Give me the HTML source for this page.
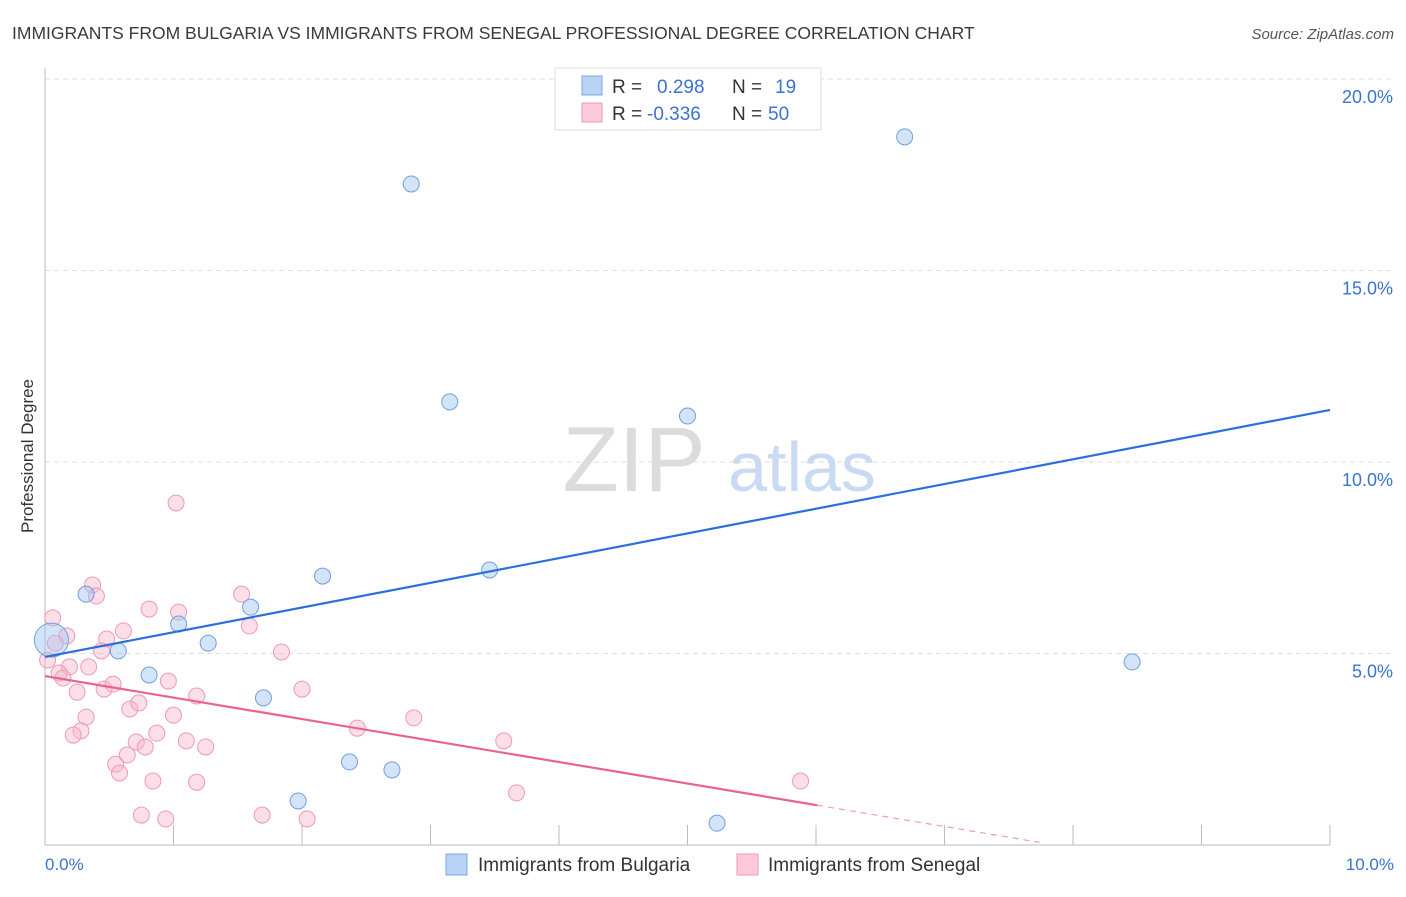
<!DOCTYPE html>
<html><head><meta charset="utf-8"><style>
body{margin:0;background:#fff;font-family:"Liberation Sans",sans-serif;}
svg text{font-family:"Liberation Sans",sans-serif;}
</style></head><body>
<svg id="chart" width="1406" height="892" xmlns="http://www.w3.org/2000/svg">
<text x="12" y="39" font-size="17.5" fill="#3a3a3a">IMMIGRANTS FROM BULGARIA VS IMMIGRANTS FROM SENEGAL PROFESSIONAL DEGREE CORRELATION CHART</text>
<text x="1394" y="39" font-size="15" fill="#555" text-anchor="end" font-style="italic">Source: ZipAtlas.com</text>
<g id="grid"></g>
<g>
<text x="634" y="491" font-size="92" fill="#dcdcdc" text-anchor="middle" font-family="Liberation Serif, serif">ZIP</text>
<text x="802" y="491" font-size="70" fill="#c9daf2" text-anchor="middle">atlas</text>
</g>
<line x1="45" y1="68" x2="45" y2="845" stroke="#bbb"/>
<line x1="45" y1="845" x2="1330" y2="845" stroke="#bbb"/>
<g id="ticks"></g>
<g id="pts"></g>
<g id="lines"></g>
<text x="33" y="456" font-size="17" fill="#333" text-anchor="middle" transform="rotate(-90 33 456)">Professional Degree</text>
<text x="45" y="870" font-size="17" fill="#3b73d1">0.0%</text>
<text x="1394" y="870" font-size="17" fill="#3b73d1" text-anchor="end">10.0%</text>
<g>
<rect x="555" y="68" width="266" height="62" fill="#fff" stroke="#ddd"/>
<rect x="582" y="76" width="20" height="19" fill="#b8d3f6" stroke="#7aa7e0"/>
<rect x="582" y="103" width="20" height="19" fill="#fcc9d8" stroke="#ee9ab5"/>
<text x="612" y="93" font-size="19" fill="#333">R = </text><text x="657" y="93" font-size="19" fill="#3b73d1">0.298</text>
<text x="732" y="93" font-size="19" fill="#333">N = </text><text x="775" y="93" font-size="19" fill="#3b73d1">19</text>
<text x="612" y="120" font-size="19" fill="#333">R = </text><text x="647" y="120" font-size="19" fill="#3b73d1">-0.336</text>
<text x="732" y="120" font-size="19" fill="#333">N = </text><text x="768" y="120" font-size="19" fill="#3b73d1">50</text>
</g>
<g>
<rect x="446" y="854" width="21" height="21" fill="#b8d3f6" stroke="#7aa7e0"/>
<text x="478" y="871" font-size="19" fill="#333">Immigrants from Bulgaria</text>
<rect x="737" y="854" width="21" height="21" fill="#fcc9d8" stroke="#ee9ab5"/>
<text x="768" y="871" font-size="19" fill="#333">Immigrants from Senegal</text>
</g>
</svg>
<script>
const yTicks=[5,10,15,20];
const yTickLabels=["5.0%","10.0%","15.0%","20.0%"];
const xTicks=[1,2,3,4,5,6,7,8,9,10];
const bulgariaX=[0.05,0.32,0.57,0.81,1.04,1.27,1.60,1.70,2.16,2.37,2.70,1.97,2.85,3.15,3.46,5.00,5.23,6.69,8.46];
const bulgariaY=[5.35,6.55,5.07,4.44,5.77,5.27,6.21,3.84,7.02,2.17,1.96,1.15,17.26,11.57,7.18,11.20,0.57,18.49,4.78];
const senegalX=[1.02,0.37,0.40,0.06,0.81,1.04,1.53,1.59,0.17,0.61,0.48,0.44,0.08,1.84,0.19,0.34,0.11,0.14,0.25,0.46,0.53,0.96,1.18,2.00,0.66,0.73,1.00,0.32,0.28,0.22,0.87,0.71,0.78,1.10,1.25,0.64,0.55,0.58,0.84,1.18,2.43,0.75,0.94,1.69,2.04,2.87,3.57,3.67,5.88,0.02];
const senegalY=[8.93,6.79,6.50,5.93,6.16,6.08,6.55,5.72,5.46,5.59,5.38,5.07,5.27,5.04,4.65,4.65,4.49,4.36,3.99,4.07,4.20,4.28,3.89,4.07,3.55,3.71,3.39,3.34,2.98,2.87,2.92,2.69,2.56,2.72,2.56,2.35,2.11,1.88,1.67,1.64,3.05,0.78,0.68,0.78,0.68,3.32,2.72,1.36,1.67,4.83];
const bulgariaTrend=[4.91,11.36];   // y at x=0 and x=10
const senegalTrend=[4.41,-0.561];  // intercept, slope
const senegalSolidEnd=6.01, senegalDashEnd=7.74;

const NS="http://www.w3.org/2000/svg";
const X=v=>45+v*128.5;
const Y=v=>845-v*38.3;
function mk(tag,attrs,parent){const e=document.createElementNS(NS,tag);for(const k in attrs)e.setAttribute(k,attrs[k]);parent.appendChild(e);return e;}
const grid=document.getElementById('grid');
yTicks.forEach((t,i)=>{
  const l=mk('line',{x1:45,x2:1394,y1:Y(t),y2:Y(t),stroke:'#ddd','stroke-dasharray':'5,4'},grid);
  
  
  const tx=mk('text',{x:1393,y:Y(t)+24,'font-size':18,fill:'#3b73d1','text-anchor':'end'},grid);
  tx.textContent=yTickLabels[i];
  
  
});
const ticks=document.getElementById('ticks');
xTicks.forEach(t=>{
  const l=mk('line',{x1:X(t),x2:X(t),y1:825,y2:845,stroke:'#bbb'},ticks);
  
  
});
const pts=document.getElementById('pts');
senegalX.forEach((x,i)=>{
  const c=mk('circle',{cx:X(x),cy:Y(senegalY[i]),r:8,fill:'rgba(248,182,202,0.45)',stroke:'#ee9ab5','stroke-width':1},pts);
  
  
});
bulgariaX.forEach((x,i)=>{
  const c=mk('circle',{cx:X(x),cy:Y(bulgariaY[i]),r:i===0?17:8,fill:'rgba(160,196,240,0.45)',stroke:'#6f9fe0','stroke-width':1},pts);
  
  
});
const lines=document.getElementById('lines');
const bl=mk('line',{x1:X(0),y1:Y(bulgariaTrend[0]),x2:X(10),y2:Y(bulgariaTrend[1]),stroke:'#2a6fdb','stroke-width':2.2},lines);


const sv=x=>senegalTrend[0]+senegalTrend[1]*x;
const sl=mk('line',{x1:X(0),y1:Y(sv(0)),x2:X(senegalSolidEnd),y2:Y(sv(senegalSolidEnd)),stroke:'#e8648f','stroke-width':2.2},lines);


const sd=mk('line',{x1:X(senegalSolidEnd),y1:Y(sv(senegalSolidEnd)),x2:X(senegalDashEnd),y2:Y(sv(senegalDashEnd)),stroke:'#e8a0b8','stroke-width':1.2,'stroke-dasharray':'6,5'},lines);


</script>
</body></html>
